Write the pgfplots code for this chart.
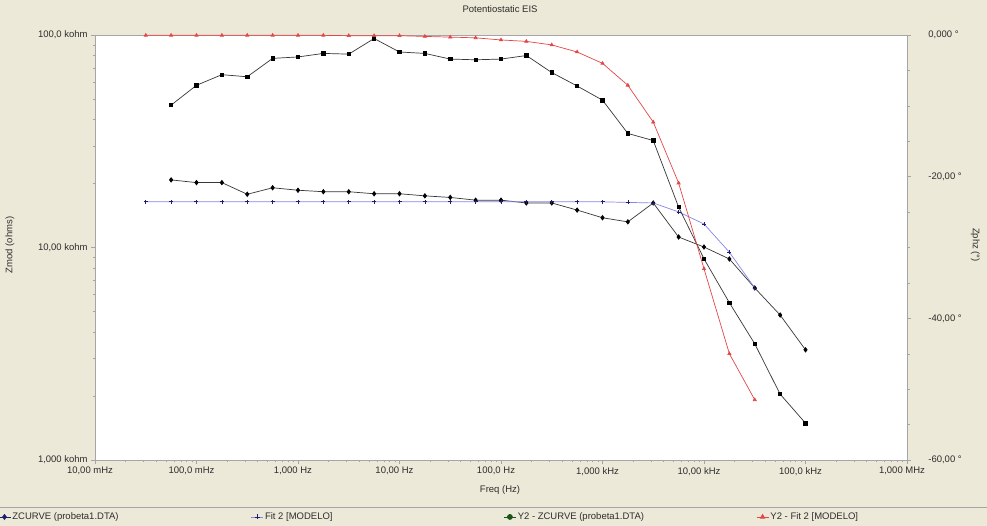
\documentclass[border=0pt]{standalone}
\usepackage{fontspec}
\setmainfont{Liberation Sans}
\usepackage{pgfplots}
\pgfplotsset{compat=1.18}
\usepackage{pgfplotstable}
\definecolor{bgbeige}{RGB}{236,233,216}
\definecolor{axgray}{RGB}{165,165,165}
\definecolor{fitred}{RGB}{228,70,70}
\definecolor{fitblue}{RGB}{135,135,230}
\definecolor{marknavy}{RGB}{30,30,110}
\definecolor{datagray}{RGB}{55,55,55}
\definecolor{leggreen}{RGB}{25,85,25}
\definecolor{txt}{RGB}{45,45,45}

\pgfplotstableread{
f z
0.05623 20800
0.1 20200
0.1778 20200
0.3162 17800
0.5623 19100
1 18600
1.778 18300
3.162 18300
5.623 17900
10 17900
17.78 17500
31.62 17200
56.23 16700
100 16700
177.8 16200
316.2 16200
562.3 15000
1000 13800
1778 13200
3162 16200
5623 11200
10000 10050
17783 8830
31623 6450
56234 4810
100000 3300
}\zmoddata

\pgfplotstableread{
f z
0.03162 16400
0.05623 16400
0.1 16400
0.1778 16400
0.3162 16400
0.5623 16400
1 16400
1.778 16400
3.162 16400
5.623 16400
10 16400
17.78 16400
31.62 16400
56.23 16400
100 16400
177.8 16400
316.2 16400
562.3 16400
1000 16400
1778 16300
3162 16200
5623 14700
10000 12900
17783 9500
31623 6450
}\zmodfit

\pgfplotstableread{
f p
0.05623 -9.9
0.1 -7.1
0.1778 -5.6
0.3162 -5.9
0.5623 -3.3
1 -3.1
1.778 -2.6
3.162 -2.7
5.623 -0.5
10 -2.4
17.78 -2.6
31.62 -3.4
56.23 -3.5
100 -3.4
177.8 -2.9
316.2 -5.3
562.3 -7.2
1000 -9.2
1778 -13.9
3162 -14.9
5623 -24.3
10000 -31.6
17783 -37.8
31623 -43.6
56234 -50.7
100000 -54.8
}\phzdata

\pgfplotstableread{
f p
0.03162 -0.05
0.05623 -0.05
0.1 -0.05
0.1778 -0.05
0.3162 -0.05
0.5623 -0.05
1 -0.05
1.778 -0.05
3.162 -0.1
5.623 -0.1
10 -0.1
17.78 -0.2
31.62 -0.3
56.23 -0.4
100 -0.7
177.8 -0.9
316.2 -1.4
562.3 -2.4
1000 -4.0
1778 -7.1
3162 -12.3
5623 -20.9
10000 -33.0
17783 -45.0
31623 -51.5
}\phzfit

\newcommand{\tf}{\fontsize{9.5}{11.5}\selectfont}

\begin{document}
\tf
\begin{tikzpicture}
\useasboundingbox (-95pt,-66pt) rectangle (892pt,460pt);
\fill[bgbeige] (-95pt,-66pt) rectangle (892pt,460pt);
\draw[axgray] (-95pt,-47pt) -- (892pt,-47pt);

\begin{axis}[
  at={(0pt,0pt)}, anchor=south west,
  scale only axis, width=812pt, height=425pt,
  xmode=log, ymode=log,
  xmin=0.01, xmax=1e6, ymin=1000, ymax=100000,
  axis background/.style={fill=white},
  axis line style={axgray},
  tick style={axgray, thin},
  tick align=outside,
  major tick length=4pt, minor tick length=2.5pt,
  xtick pos=bottom, ytick pos=left,
  xtick={0.01,0.1,1,10,100,1000,10000,100000,1000000},
  minor xtick={0.02,0.03,0.04,0.05,0.06,0.07,0.08,0.09,
    0.2,0.3,0.4,0.5,0.6,0.7,0.8,0.9,
    2,3,4,5,6,7,8,9,
    20,30,40,50,60,70,80,90,
    200,300,400,500,600,700,800,900,
    2000,3000,4000,5000,6000,7000,8000,9000,
    20000,30000,40000,50000,60000,70000,80000,90000,
    200000,300000,400000,500000,600000,700000,800000,900000},
  xticklabels={{10,00 mHz},{100,0 mHz},{1,000 Hz},{10,00 Hz},{100,0 Hz},{1,000 kHz},{10,00 kHz},{100,0 kHz},{1,000 MHz}},
  ytick={1000,10000,100000},
  minor ytick={2000,3000,4000,5000,6000,7000,8000,9000,
    20000,30000,40000,50000,60000,70000,80000,90000},
  yticklabels={{1,000 kohm},{10,00 kohm},{100,0 kohm}},
  tick label style={font=\tf, text=txt},
  xticklabel style={xshift=-5pt},
  xlabel={Freq (Hz)},
  xlabel style={font=\tf, text=txt, at={(axis description cs:0.4988,-0.0706)}, anchor=center},
  ylabel={Zmod (ohms)},
  ylabel style={font=\tf, text=txt, at={(axis description cs:-0.1047,0.506)}, anchor=center},
  title={Potentiostatic EIS},
  title style={font=\tf, text=txt, at={(axis description cs:0.4988,1.047)}, anchor=center},
]
\addplot[datagray, line width=0.7pt, mark=diamond*, mark size=2.2pt, mark options={fill=black, draw=black}] table[x=f, y=z] {\zmoddata};
\addplot[fitblue, line width=0.7pt, mark=+, mark size=2pt, mark options={marknavy}] table[x=f, y=z] {\zmodfit};
\end{axis}

\begin{axis}[
  at={(0pt,0pt)}, anchor=south west,
  scale only axis, width=812pt, height=425pt,
  xmode=log, xmin=0.01, xmax=1e6, ymin=-60, ymax=0,
  axis x line=none, axis y line*=right,
  axis line style={axgray},
  tick style={axgray, thin},
  tick align=outside,
  major tick length=4pt, minor tick length=2.5pt,
  ytick={-60,-40,-20,0},
  yticklabels={{-60,00 °},{-40,00 °},{-20,00 °},{0,000 °}},
  minor y tick num=3,
  yticklabel style={font=\tf, text=txt, anchor=west, xshift=14pt},
  ylabel={Zphz (°)},
  ylabel style={font=\tf, text=txt, at={(axis description cs:1.084,0.506)}, anchor=center, rotate=180},
  clip=false,
  legend columns=4,
  legend style={at={(axis description cs:-0.1195,-0.134)}, anchor=west, draw=none, fill=none,
    inner sep=0pt, nodes={inner sep=1.5pt, font=\tf, text=txt},
    /tikz/every even column/.append style={column sep=0pt}},
  legend image code/.code={\draw[mark repeat=2, mark phase=2, #1] plot coordinates {(0pt,0pt) (6pt,0pt) (12pt,0pt)};},
]
\addlegendimage{marknavy, line width=0.7pt, mark=diamond*, mark size=2.5pt, mark options={fill=marknavy}}
\addlegendentry{\makebox[237pt][l]{ZCURVE (probeta1.DTA)}}
\addlegendimage{fitblue, line width=0.7pt, mark=+, mark size=2.5pt, mark options={marknavy}}
\addlegendentry{\makebox[237pt][l]{Fit 2 [MODELO]}}
\addlegendimage{leggreen, line width=0.7pt, mark=*, mark size=2.5pt, mark options={fill=leggreen}}
\addlegendentry{\makebox[237pt][l]{Y2 - ZCURVE (probeta1.DTA)}}
\addlegendimage{fitred, line width=0.7pt, mark=triangle*, mark size=2.5pt, mark options={fill=fitred}}
\addlegendentry{\makebox[150pt][l]{Y2 - Fit 2 [MODELO]}}
\addplot[forget plot, datagray, line width=0.7pt, mark=square*, mark size=1.7pt, mark options={fill=black, draw=black}] table[x=f, y=p] {\phzdata};
\addplot[forget plot, fitred, line width=0.7pt, mark=triangle*, mark size=1.8pt, mark options={fill=fitred}] table[x=f, y=p] {\phzfit};
\end{axis}
\end{tikzpicture}
\end{document}
